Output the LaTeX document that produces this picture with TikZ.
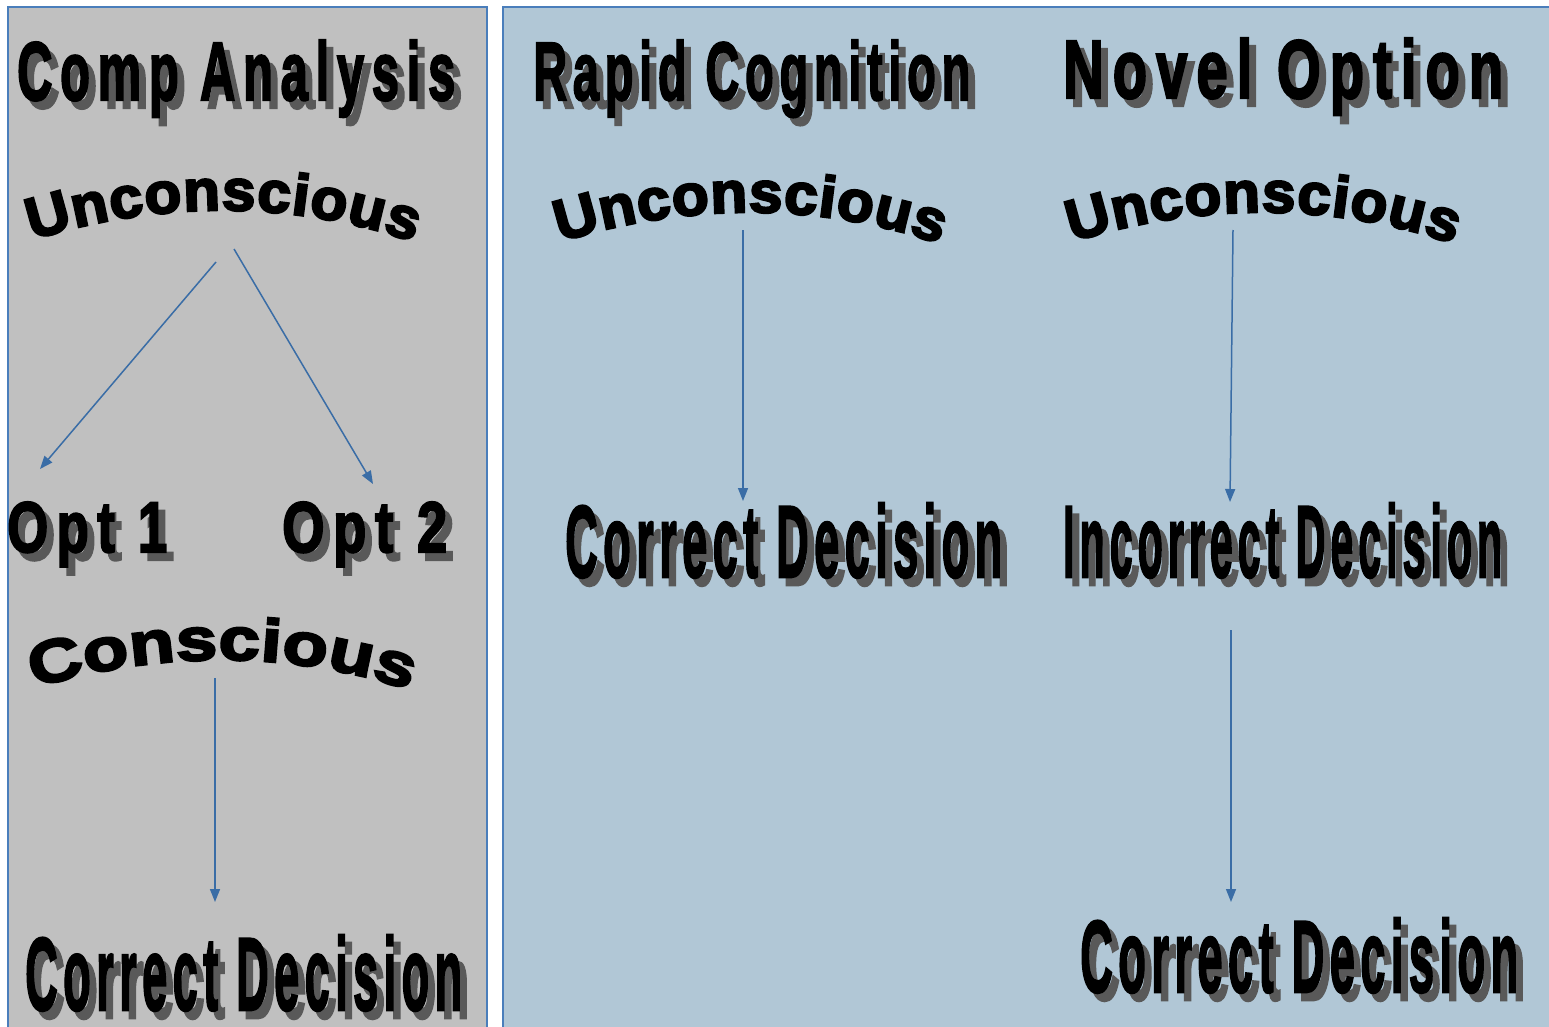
\documentclass[tikz,border=0pt]{standalone}
\usepackage{fontspec}
\usepackage{graphicx}
\usetikzlibrary{arrows.meta,decorations.text}
\newfontfamily\artfont[FakeBold=2.5, LetterSpace=12]{Liberation Sans Bold}
\newfontfamily\wideartfont[FakeBold=3, LetterSpace=16]{Liberation Sans Bold}
\newfontfamily\arcfont[FakeBold=4, FakeStretch=1.04]{Liberation Sans Bold}
\newfontfamily\widearcfont[FakeBold=4, FakeStretch=1.24]{Liberation Sans Bold}
\definecolor{panelgray}{HTML}{C0C0C0}
\definecolor{panelblue}{HTML}{B1C7D6}
\definecolor{panelline}{HTML}{4A7EBB}
\definecolor{arrowblue}{HTML}{3A6DA6}
\definecolor{shadowgray}{HTML}{595959}
% width, height, text: black word with a grey drop shadow
\newcommand\shadowtext[3]{%
  \makebox[0pt][l]{\hspace*{7pt}\raisebox{-8pt}{\color{shadowgray}\resizebox{#1}{#2}{#3}}}%
  \resizebox{#1}{#2}{#3}}
\tikzset{
  panel/.style={draw=panelline, line width=1.5pt},
  wordart/.style={inner sep=0pt, anchor=base west},
  link/.style={draw=arrowblue, line width=1.5pt, -{Triangle[length=13pt,width=10pt]}},
  arcword/.style={decorate, decoration={text along path, text align=fit to path,
    text={|\arcfont\fontsize{58}{60}\selectfont|#1}}},
  widearcword/.style={decorate, decoration={text along path, text align=fit to path,
    text={|\widearcfont\fontsize{60}{62}\selectfont|#1}}}
}
\begin{document}
\begin{tikzpicture}[x=1pt, y=-1pt]
  \useasboundingbox (0,0) rectangle (1549,1027);
  \fill[white] (0,0) rectangle (1549,1027);
  \path[panel, fill=panelgray] (8,7) rectangle (487,1040);
  \path[panel, fill=panelblue] (503,7) rectangle (1560,1040);

  % titles
  \node[wordart] (comptitle) at (17,100) {\shadowtext{438pt}{60pt}{\wideartfont Comp Analysis}};
  \node[wordart] (rapidtitle) at (533,100) {\shadowtext{437pt}{60pt}{\artfont Rapid Cognition}};
  \node[wordart] (noveltitle) at (1063,98) {\shadowtext{440pt}{60pt}{\wideartfont Novel Option}};

  % arched words
  \path[arcword=Unconscious] (32,240) .. controls (160,200) and (292,200) .. (414,242);
  \path[arcword=Unconscious] (560,242) .. controls (688,202) and (820,202) .. (940,244);
  \path[arcword=Unconscious] (1072,242) .. controls (1200,202) and (1332,202) .. (1454,244);
  \path[widearcword=Conscious] (34,688) .. controls (160,650) and (290,650) .. (410,690);

  % option words and decisions
  \node[wordart] (opta) at (7,552) {\shadowtext{160pt}{50pt}{\wideartfont Opt 1}};
  \node[wordart] (optb) at (282,552) {\shadowtext{165pt}{50pt}{\wideartfont Opt 2}};
  \node[wordart] (compdec) at (25,1010) {\shadowtext{437pt}{75pt}{\artfont Correct Decision}};
  \node[wordart] (rapiddec) at (565,577) {\shadowtext{437pt}{74pt}{\artfont Correct Decision}};
  \node[wordart] (novelwrong) at (1063,577) {\shadowtext{439pt}{74pt}{\artfont Incorrect Decision}};
  \node[wordart] (noveldec) at (1080,992) {\shadowtext{438pt}{74pt}{\artfont Correct Decision}};

  % arrow ends
  \coordinate (unca) at (216,262);
  \coordinate (uncb) at (234,249);
  \coordinate (opta-in) at (40,469);
  \coordinate (optb-in) at (373,484);
  \coordinate (cons-out) at (215,678);
  \coordinate (compdec-in) at (215,902);
  \coordinate (rapid-out) at (743,230);
  \coordinate (rapiddec-in) at (743,501);
  \coordinate (novel-out) at (1233,230);
  \coordinate (novelwrong-in) at (1230,502);
  \coordinate (novelwrong-out) at (1231,630);
  \coordinate (noveldec-in) at (1231,902);

  \draw[link] (unca) -- (opta-in);
  \draw[link] (uncb) -- (optb-in);
  \draw[link] (cons-out) -- (compdec-in);
  \draw[link] (rapid-out) -- (rapiddec-in);
  \draw[link] (novel-out) -- (novelwrong-in);
  \draw[link] (novelwrong-out) -- (noveldec-in);
\end{tikzpicture}
\end{document}
